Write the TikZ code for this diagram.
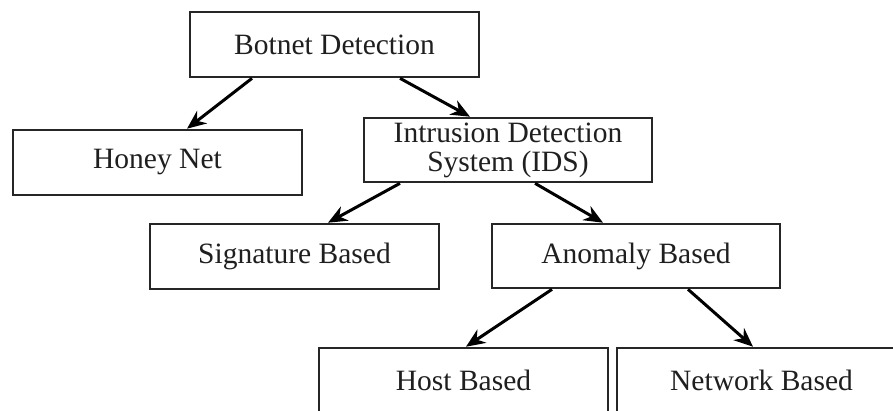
\documentclass[tikz,border=0pt]{standalone}
\usepackage{fontspec}
\setmainfont{Liberation Serif}
\usetikzlibrary{arrows.meta}
\begin{document}
\begin{tikzpicture}[x=1pt,y=-1pt,
  box/.style={draw=black!85, line width=2.6pt, rectangle, minimum width=289pt, minimum height=65pt,
    inner sep=0pt, align=center, text=black!88, font=\fontsize{29.5}{33}\selectfont},
  link/.style={line width=3pt, -{Stealth[length=19pt,width=16pt]}}]
  \clip (0,0) rectangle (893,410);
  \fill[white] (0,0) rectangle (893,410);

  % tree of detection approaches
  \node[box] (bot)   at (334.5,44.5) {Botnet Detection};
  \node[box] (honey) at (157.5,162.5) {Honey Net};
  \node[box, minimum width=288pt, minimum height=64pt] (ids) at (508,150)
        {Intrusion Detection\\[-4pt]System (IDS)};
  \node[box] (sig)   at (294.5,256.5) {Signature Based};
  \node[box, minimum width=288pt, minimum height=64pt] (anom) at (636,256) {Anomaly Based};
  \node[box] (host)  at (463.5,380.5) {Host Based};
  \node[box] (net)   at (761.5,380.5) {Network Based};

  % connectors
  \draw[link] ([xshift=-82.5pt]bot.south) -- ([xshift=29.5pt]honey.north);
  \draw[link] ([xshift=65.5pt]bot.south) -- ([xshift=-38pt]ids.north);
  \draw[link] ([xshift=-108pt]ids.south) -- ([xshift=33.5pt]sig.north);
  \draw[link] ([xshift=27pt]ids.south) -- ([xshift=-33pt]anom.north);
  \draw[link] ([xshift=-84pt]anom.south) -- ([xshift=2.5pt]host.north);
  \draw[link] ([xshift=52pt]anom.south) -- ([xshift=-8.5pt]net.north);
\end{tikzpicture}
\end{document}
